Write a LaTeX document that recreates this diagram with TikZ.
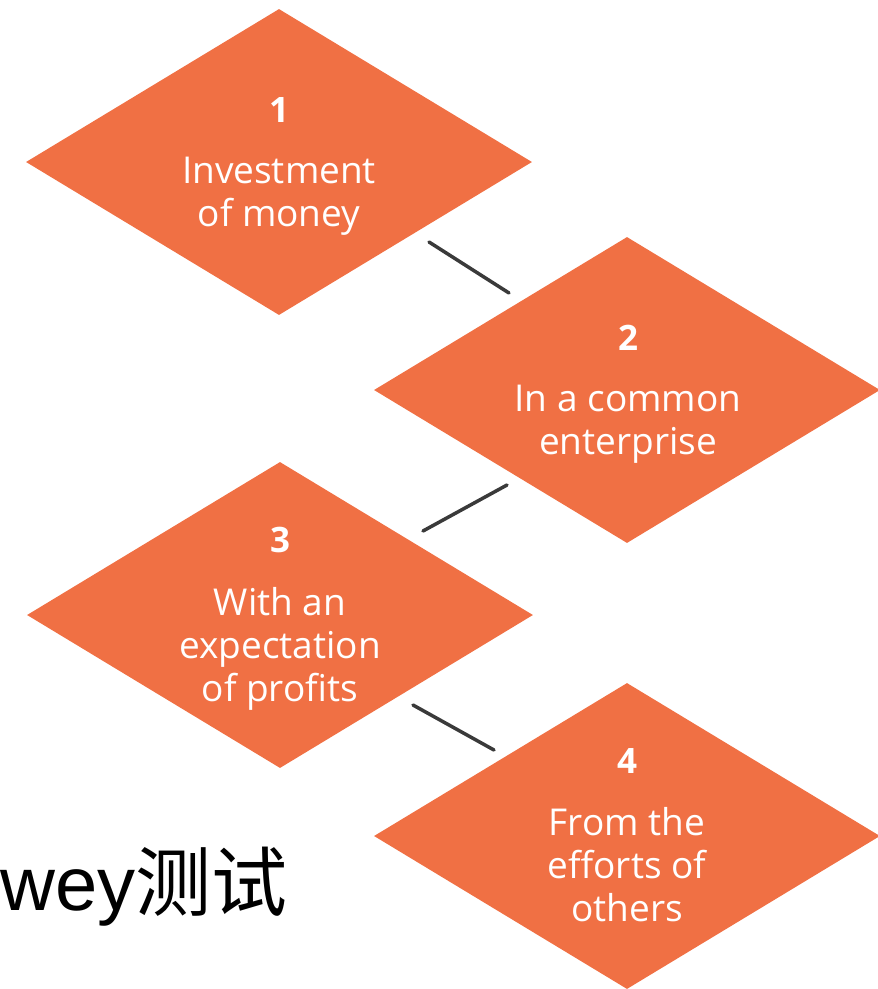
\documentclass[tikz,border=0pt]{standalone}
\usepackage{fontspec}
\setmainfont{Open Sans}
\newfontfamily\cjkfont{Noto Sans CJK SC}
\newfontfamily\arialfont{Liberation Sans}
\usetikzlibrary{shapes.geometric}
\definecolor{dorange}{RGB}{240,112,68}
\definecolor{dline}{RGB}{58,58,58}
\begin{document}
\begin{tikzpicture}[x=1pt,y=-1pt,
  dia/.style={shape=diamond, fill=dorange, draw=none, minimum width=506pt, minimum height=306pt, inner sep=0pt},
  num/.style={text=white, font=\fontsize{35}{35}\selectfont\bfseries, inner sep=0pt, anchor=north},
  lbl/.style={text=white, font=\fontsize{37}{43}\selectfont, align=center, inner sep=0pt, anchor=north},
  conn/.style={draw=dline, line width=3.5pt, line cap=round}]
\useasboundingbox (0,0) rectangle (878,989);

\node[dia] (d1) at (279,162) {};
\node[dia] (d2) at (627,390) {};
\node[dia] (d3) at (280,615) {};
\node[dia] (d4) at (627,836) {};

\node[num] (n1) at (279,97) {1};
\node[lbl] (t1) at (279,157) {Investment\\of money};
\node[num] (n2) at (628,325) {2};
\node[lbl] (t2) at (628,385) {In a common\\enterprise};
\node[num] (n3) at (280,527) {3};
\node[lbl] (t3) at (280,587) {With an\\expectation\\of profits};
\node[num] (n4) at (627,748) {4};
\node[lbl] (t4) at (627,807) {From the\\efforts of\\others};

\coordinate (c1a) at (429,242);
\coordinate (c1b) at (509,293);
\coordinate (c2a) at (507,485);
\coordinate (c2b) at (423,531);
\coordinate (c3a) at (413,705);
\coordinate (c3b) at (494,750);
\draw[conn] (c1a) -- (c1b);
\draw[conn] (c2a) -- (c2b);
\draw[conn] (c3a) -- (c3b);

\node[anchor=base west, inner sep=0pt, font=\fontsize{76}{76}\selectfont] (title) at (0,910) {\arialfont wey\cjkfont 测试};
\end{tikzpicture}
\end{document}
